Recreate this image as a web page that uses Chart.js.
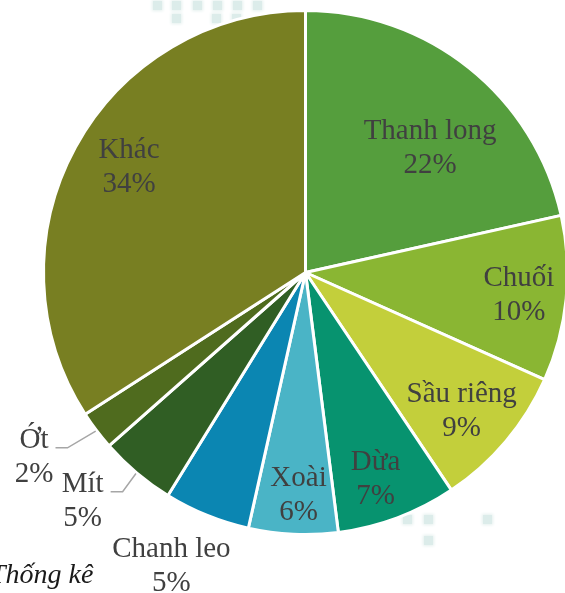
<!DOCTYPE html>
<html>
<head>
<meta charset="utf-8">
<script src="https://cdn.jsdelivr.net/npm/chart.js@4.4.1/dist/chart.umd.min.js"></script>
<style>
  html, body { margin:0; padding:0; width:565px; height:593px; overflow:hidden; background:#ffffff; }
  #wrap { position:absolute; left:0; top:0; width:611px; height:593px; }
  .dec { position:absolute; background:#dcecea; width:9px; height:9px; box-shadow:0 0 3px 1px #e4f0ee; }
</style>
</head>
<body>
<div class="dec" style="left:153px;top:1px"></div>
<div class="dec" style="left:172px;top:1px"></div>
<div class="dec" style="left:193px;top:1px"></div>
<div class="dec" style="left:213px;top:1px"></div>
<div class="dec" style="left:233px;top:1px"></div>
<div class="dec" style="left:253px;top:1px"></div>
<div class="dec" style="left:172px;top:14px"></div>
<div class="dec" style="left:212px;top:14px"></div>
<div class="dec" style="left:232px;top:14px"></div>
<div class="dec" style="left:403px;top:515px"></div>
<div class="dec" style="left:424px;top:515px"></div>
<div class="dec" style="left:424px;top:536px"></div>
<div class="dec" style="left:483px;top:515px"></div>
<div id="wrap"><canvas id="c" width="611" height="593"></canvas></div>
<script>
// ---- data ----
const categories = ["Thanh long", "Chuối", "Sầu riêng", "Dừa", "Xoài", "Chanh leo", "Mít", "Ớt", "Khác"];
const shares = [21.5, 10.2, 8.9, 7.4, 5.5, 5.3, 4.7, 2.4, 34.1];
const sliceColors = ["#559e3d", "#8ab633", "#c3cf3b", "#07936f", "#4ab4c6", "#0b86b2", "#305e24", "#4f6b1e", "#787f22"];
const sourceNote = "Thống kê";

// label placement (fraction of radius, angular shift in degrees), leader-line flags
const labelRadius = [0.68, 0.825, 0.80, 0.835, 0.852, 1.237, 1.224, 1.26, 0.793];
const labelShift = [6.1, 0, 1.2, 1.7, -0.9, 2.5, 4.3, 3.05, 2.5];
const leader = [false, false, false, false, false, false, true, true, false];

const FONT = '29px "Liberation Serif", "Times New Roman", serif';

const labelPlugin = {
  id: 'sliceLabels',
  afterDatasetsDraw(chart) {
    const ctx = chart.ctx;
    const meta = chart.getDatasetMeta(0);
    const total = shares.reduce((a, b) => a + b, 0);
    ctx.save();
    ctx.font = FONT;
    ctx.fillStyle = '#404040';
    ctx.textAlign = 'center';
    ctx.textBaseline = 'alphabetic';
    meta.data.forEach((arc, i) => {
      const p = arc.getProps(['x', 'y', 'startAngle', 'endAngle', 'outerRadius'], true);
      const r = 260;
      const mid = (p.startAngle + p.endAngle) / 2 + labelShift[i] * Math.PI / 180;
      const cx = p.x + Math.cos(mid) * r * labelRadius[i];
      const cy = p.y + Math.sin(mid) * r * labelRadius[i];
      const l1 = categories[i];
      const l2 = Math.round(shares[i] / total * 100) + '%';
      const b1 = cy - 8, b2 = cy + 26;
      ctx.fillText(l1, cx, b1);
      ctx.fillText(l2, cx, b2);
      if (leader[i]) {
        const w = ctx.measureText(l1).width;
        const xe = cx + w / 2 + 7;
        const midRaw = (p.startAngle + p.endAngle) / 2;
        const ex = p.x + Math.cos(midRaw) * (p.outerRadius + 1);
        const ey = p.y + Math.sin(midRaw) * (p.outerRadius + 1);
        ctx.save();
        ctx.strokeStyle = '#a6a6a6';
        ctx.lineWidth = 1.5;
        ctx.beginPath();
        ctx.moveTo(xe, b1);
        ctx.lineTo(xe + 12, b1);
        ctx.lineTo(ex, ey);
        ctx.stroke();
        ctx.restore();
      }
    });
    // source note (cropped at the left edge)
    ctx.font = 'italic 28px "Liberation Serif", "Times New Roman", serif';
    ctx.fillStyle = '#1a1a1a';
    ctx.textAlign = 'left';
    ctx.fillText(sourceNote, -10, 583);
    ctx.restore();
  }
};

new Chart(document.getElementById('c'), {
  type: 'pie',
  data: {
    labels: categories,
    datasets: [{
      data: shares,
      backgroundColor: sliceColors,
      borderColor: '#ffffff',
      borderWidth: 3
    }]
  },
  options: {
    responsive: false,
    animation: false,
    layout: { padding: { top: 9, bottom: 57, left: 0, right: 0 } },
    plugins: { legend: { display: false }, tooltip: { enabled: false } }
  },
  plugins: [labelPlugin]
});
</script>
</body>
</html>
